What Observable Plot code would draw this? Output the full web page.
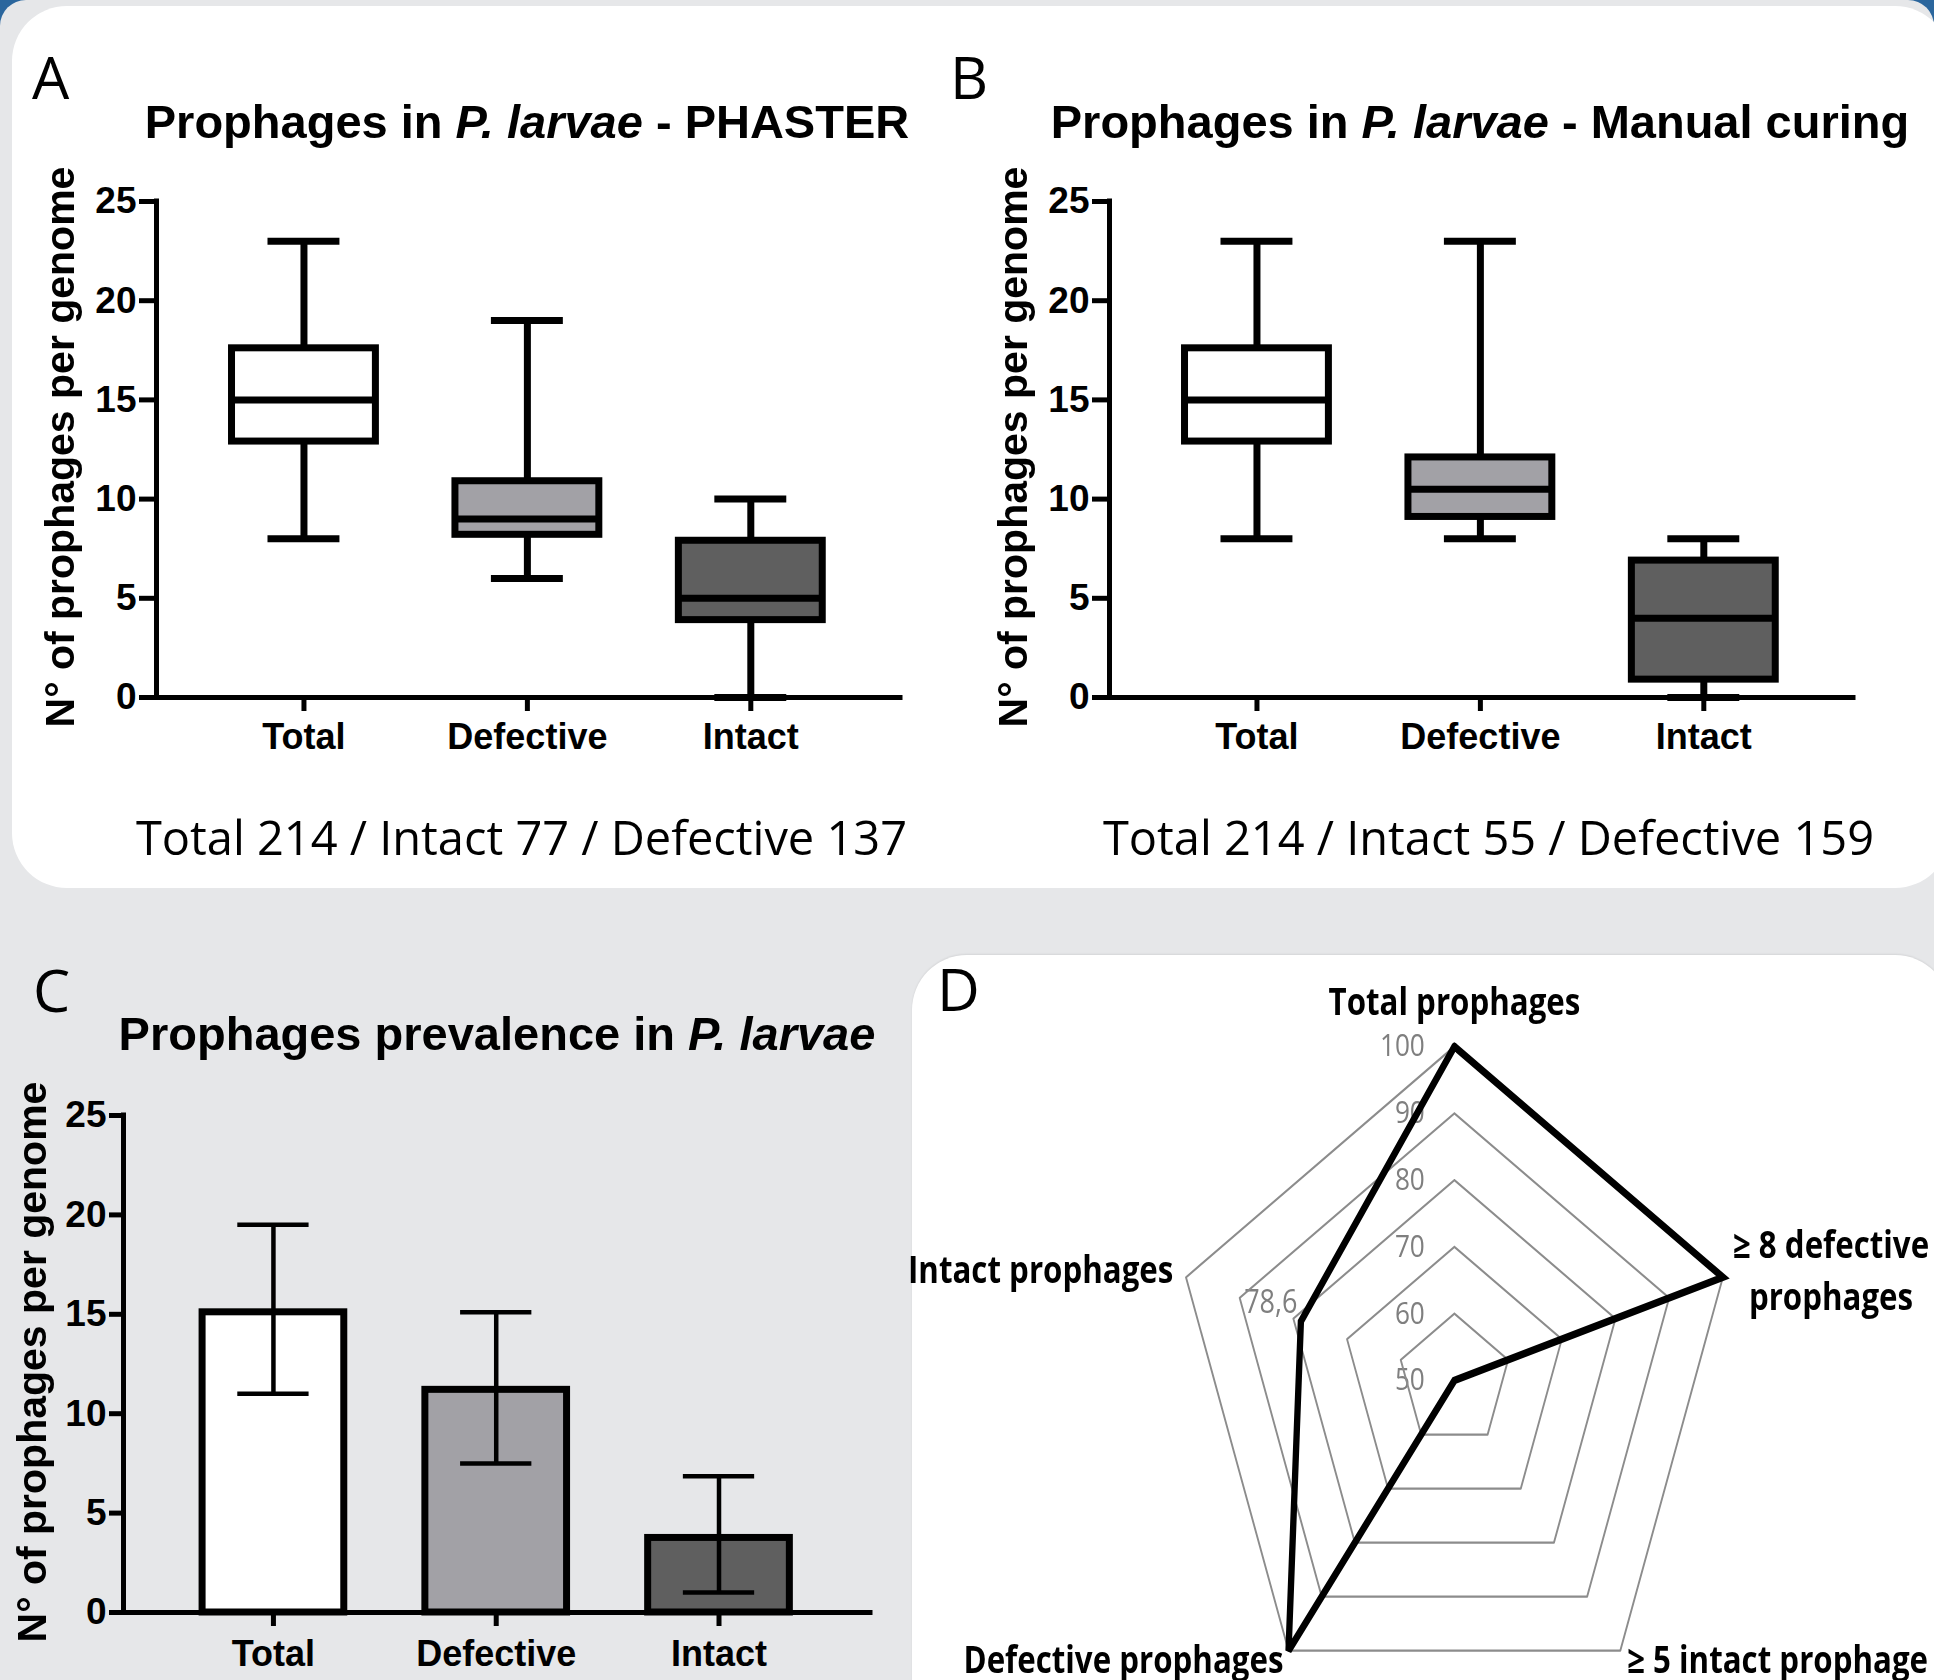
<!DOCTYPE html>
<html><head><meta charset="utf-8">
<script src="https://cdn.jsdelivr.net/npm/d3@7"></script>
<script src="https://cdn.jsdelivr.net/npm/@observablehq/plot@0.6"></script>
<style>
html,body{margin:0;padding:0;}
body{width:1934px;height:1680px;overflow:hidden;background:#2b669d;position:relative;font-family:'Liberation Sans',Arial,sans-serif;}
#bg{position:absolute;left:0;top:0;width:1934px;height:1680px;background:#e6e7e9;border-radius:26px 26px 0 0;}
.panel{position:absolute;background:#fff;border-radius:55px;}
#pAB{left:12px;top:6px;width:1938px;height:882px;}
#pD{left:912px;top:955px;width:1038px;height:800px;box-shadow:0 -1px 2px rgba(0,0,0,0.08);}
.plot{position:absolute;}
.plot svg{max-width:none !important;}
#plotA{left:0;top:150px;width:930px;}
#plotB{left:953px;top:150px;width:930px;}
#plotC{left:0;top:1060px;width:900px;}
#plotD{left:854px;top:955px;width:1200px;transform:scaleX(0.845);transform-origin:600px 0;}
#overlay{position:absolute;left:0;top:0;}
</style></head><body>
<div id="bg"></div>
<div class="panel" id="pAB"></div>
<div class="panel" id="pD"></div>
<div class="plot" id="plotA"></div>
<div class="plot" id="plotB"></div>
<div class="plot" id="plotC"></div>
<div class="plot" id="plotD"></div>
<svg id="overlay" width="1934" height="1680" xmlns="http://www.w3.org/2000/svg"></svg>
<script>
// ---------- DATA ----------
const categories = ["Total", "Defective", "Intact"];
const yTicks = [0, 5, 10, 15, 20, 25];

// Panel A: PHASTER box plot summaries
const phasterMin    = [8, 6, 0];
const phasterQ1     = [12.9, 8.2, 3.9];
const phasterMedian = [15, 9, 5];
const phasterQ3     = [17.6, 10.9, 7.9];
const phasterMax    = [23, 19, 10];

// Panel B: Manual curing box plot summaries
const manualMin    = [8, 8, 0];
const manualQ1     = [12.9, 9.1, 0.9];
const manualMedian = [15, 10.5, 4];
const manualQ3     = [17.6, 12.1, 6.9];
const manualMax    = [23, 23, 8];

// Panel C: mean with error bars
const prevalenceMean = [15.1, 11.2, 3.75];
const prevalenceLow  = [11.0, 7.5, 1.0];
const prevalenceHigh = [19.5, 15.1, 6.85];

// Panel D: radar
const radarAxes   = ["Total prophages", "≥ 8 defective\nprophages", "≥ 5 intact prophage", "Defective prophages", "Intact prophages"];
const radarValues = [100, 100, 50, 100, 78.6];
const radarLevels = [50, 60, 70, 80, 90, 100];
const radarValueLabels = ["", "", "", "", "78,6"];

// Texts
const titleA = ["Prophages in ", "P. larvae", " - PHASTER"];
const titleB = ["Prophages in ", "P. larvae", " - Manual curing"];
const titleC = ["Prophages prevalence in ", "P. larvae", ""];
const yLabel = "N° of prophages per genome";
const captionA = "Total 214 / Intact 77 / Defective 137";
const captionB = "Total 214 / Intact 55 / Defective 159";

// ---------- STYLE ----------
const fills = ["#ffffff", "#a2a1a6", "#5f5f5f"];
const xDomain = [-0.66, 2.67];
const boxHalf = 0.322, capHalf = 0.161;
const plotFont = "'Liberation Sans', Arial, sans-serif";

function boxPanel(min, q1, med, q3, max) {
  const rows = categories.map((c, i) => ({i, c, min: min[i], q1: q1[i], med: med[i], q3: q3[i], max: max[i], fill: fills[i]}));
  const bx1 = d => d.i - boxHalf, bx2 = d => d.i + boxHalf;
  const cx1 = d => d.i - capHalf, cx2 = d => d.i + capHalf;
  return Plot.plot({
    width: 930, height: 680,
    marginLeft: 156, marginRight: 30, marginTop: 51, marginBottom: 133,
    style: {background: "transparent", fontFamily: plotFont, fontWeight: "bold", fontSize: "36px", color: "black", overflow: "visible", maxWidth: "none"},
    x: {domain: xDomain, label: null},
    y: {domain: [0, 25], label: null},
    color: {type: "identity"},
    marks: [
      Plot.ruleX(rows, {x: "i", y1: "min", y2: "max", stroke: "black", strokeWidth: 7}),
      Plot.ruleY(rows, {y: "min", x1: cx1, x2: cx2, stroke: "black", strokeWidth: 7}),
      Plot.ruleY(rows, {y: "max", x1: cx1, x2: cx2, stroke: "black", strokeWidth: 7}),
      Plot.rectY(rows, {x1: bx1, x2: bx2, y1: "q1", y2: "q3", fill: "fill", stroke: "black", strokeWidth: 7}),
      Plot.ruleY(rows, {y: "med", x1: bx1, x2: bx2, stroke: "black", strokeWidth: 7}),
      Plot.axisY({ticks: yTicks, tickSize: 17, tickPadding: 3, strokeWidth: 5, fontSize: 37, fontWeight: "bold", label: null}),
      Plot.axisX({ticks: [0, 1, 2], tickFormat: i => categories[i], tickSize: 14, tickPadding: 12, strokeWidth: 5, fontSize: 36, fontWeight: "bold", label: null}),
      Plot.ruleX([xDomain[0]], {stroke: "black", strokeWidth: 5, strokeLinecap: "square"}),
      Plot.ruleY([0], {stroke: "black", strokeWidth: 5, strokeLinecap: "square"})
    ]
  });
}

document.getElementById("plotA").append(boxPanel(phasterMin, phasterQ1, phasterMedian, phasterQ3, phasterMax));
document.getElementById("plotB").append(boxPanel(manualMin, manualQ1, manualMedian, manualQ3, manualMax));

// Panel C
(function () {
  const xD = [-0.673, 2.68];
  const bh = 0.318, ch = 0.16;
  const rows = categories.map((c, i) => ({i, c, mean: prevalenceMean[i], lo: prevalenceLow[i], hi: prevalenceHigh[i], fill: fills[i]}));
  const p = Plot.plot({
    width: 900, height: 620,
    marginLeft: 123, marginRight: 30, marginTop: 55, marginBottom: 68,
    style: {background: "transparent", fontFamily: plotFont, fontWeight: "bold", fontSize: "36px", color: "black", overflow: "visible", maxWidth: "none"},
    x: {domain: xD, label: null},
    y: {domain: [0, 25], label: null},
    color: {type: "identity"},
    marks: [
      Plot.rectY(rows, {x1: d => d.i - bh, x2: d => d.i + bh, y1: 0, y2: "mean", fill: "fill", stroke: "black", strokeWidth: 7}),
      Plot.ruleX(rows, {x: "i", y1: "lo", y2: "hi", stroke: "black", strokeWidth: 4.5}),
      Plot.ruleY(rows, {y: "lo", x1: d => d.i - ch, x2: d => d.i + ch, stroke: "black", strokeWidth: 4.5}),
      Plot.ruleY(rows, {y: "hi", x1: d => d.i - ch, x2: d => d.i + ch, stroke: "black", strokeWidth: 4.5}),
      Plot.axisY({ticks: yTicks, tickSize: 14, tickPadding: 3, strokeWidth: 5, fontSize: 37, fontWeight: "bold", label: null}),
      Plot.axisX({ticks: [0, 1, 2], tickFormat: i => categories[i], tickSize: 14, tickPadding: 14, strokeWidth: 5, fontSize: 36, fontWeight: "bold", label: null}),
      Plot.ruleX([xD[0]], {stroke: "black", strokeWidth: 5, strokeLinecap: "square"}),
      Plot.ruleY([0], {stroke: "black", strokeWidth: 5, strokeLinecap: "square"})
    ]
  });
  document.getElementById("plotC").append(p);
})();

// Panel D radar
(function () {
  const K = radarAxes.length;
  const ang = k => Math.PI / 2 - k * 2 * Math.PI / K;
  const rad = v => (v - 50) / 50;
  const px = (v, k) => rad(v) * Math.cos(ang(k));
  const py = (v, k) => rad(v) * Math.sin(ang(k));
  const grid = [];
  radarLevels.filter(l => l > 50).forEach(l => { for (let k = 0; k <= K; k++) grid.push({level: l, k}); });
  const series = [];
  for (let k = 0; k <= K; k++) series.push({k: k % K, v: radarValues[k % K]});
  const vertices = radarAxes.map((name, k) => ({name, k, v: 100}));
  const labelStyle = [
    {anchor: "middle", dx: 0, dy: -32},
    {anchor: "middle", dx: 128, dy: 33},
    {anchor: "start", dx: 8, dy: 22},
    {anchor: "end", dx: -6, dy: 22},
    {anchor: "end", dx: -15, dy: 6}
  ];
  const labelMarks = vertices.map((d, k) => Plot.text([d], {
    x: d => px(d.v, d.k), y: d => py(d.v, d.k), text: "name",
    textAnchor: labelStyle[k].anchor, lineAnchor: "bottom", lineHeight: 1.4,
    dx: labelStyle[k].dx, dy: labelStyle[k].dy,
    fontSize: 37, fontWeight: "bold", fill: "black"
  }));
  const valLabels = radarValues.map((v, k) => ({v, k, t: radarValueLabels[k]})).filter(d => d.t);
  const p = Plot.plot({
    width: 1200, height: 725, margin: 0,
    style: {background: "transparent", fontFamily: "'Open Sans', 'Noto Sans', sans-serif", color: "black", overflow: "visible", maxWidth: "none"},
    x: {domain: [-1, 1], range: [266, 934], axis: null},
    y: {domain: [-1, 1], range: [759, 91], axis: null},
    marks: [
      Plot.text(radarLevels, {x: 0, y: l => rad(l), text: l => String(l), textAnchor: "end", dx: -35, fill: "#7f7f7f", fontSize: 31}),
      Plot.text(valLabels, {x: d => px(d.v, d.k), y: d => py(d.v, d.k), text: "t", textAnchor: "end", dx: -4, dy: -19, fill: "#7f7f7f", fontSize: 32}),
      Plot.line(grid, {x: d => px(d.level, d.k), y: d => py(d.level, d.k), z: "level", stroke: "#8c8c8c", strokeWidth: 2.2}),
      Plot.line(series, {x: d => px(d.v, d.k), y: d => py(d.v, d.k), stroke: "black", strokeWidth: 7.5, strokeLinejoin: "miter", strokeMiterlimit: 3}),
      ...labelMarks
    ]
  });
  document.getElementById("plotD").append(p);
})();

// ---------- Overlay texts ----------
const NS = "http://www.w3.org/2000/svg";
const ov = document.getElementById("overlay");
function addText(attrs, parts) {
  const t = document.createElementNS(NS, "text");
  for (const k in attrs) t.setAttribute(k, attrs[k]);
  if (Array.isArray(parts)) {
    parts.forEach((s, j) => {
      if (!s) return;
      const ts = document.createElementNS(NS, "tspan");
      if (j === 1) ts.setAttribute("font-style", "italic");
      ts.textContent = s;
      t.appendChild(ts);
    });
  } else t.textContent = parts;
  ov.appendChild(t);
  return t;
}
const letterFont = {"font-family": "'Open Sans', 'Noto Sans', sans-serif", "font-size": 59};
addText({x: 32, y: 99, ...letterFont}, "A");
addText({x: 950, y: 99, ...letterFont}, "B");
addText({x: 33, y: 1012, ...letterFont}, "C");
addText({x: 937, y: 1011, ...letterFont}, "D");

const titleFont = {"font-family": plotFont, "font-size": 47, "font-weight": "bold", "text-anchor": "middle"};
addText({x: 527, y: 138, ...titleFont}, titleA);
addText({x: 1480, y: 138, ...titleFont}, titleB);
addText({x: 497, y: 1050, ...titleFont}, titleC);

const ylFont = {"font-family": plotFont, "font-size": 41, "font-weight": "bold", "text-anchor": "middle"};
addText({transform: "translate(74,447) rotate(-90)", ...ylFont}, yLabel);
addText({transform: "translate(1027,447) rotate(-90)", ...ylFont}, yLabel);
addText({transform: "translate(46,1362) rotate(-90)", ...ylFont}, yLabel);

const capFont = {"font-family": "'Open Sans', 'Noto Sans', sans-serif", "font-size": 48, lengthAdjust: "spacingAndGlyphs", textLength: 771};
addText({x: 136, y: 855, ...capFont}, captionA);
addText({x: 1103, y: 855, ...capFont}, captionB);
</script>
</body></html>
